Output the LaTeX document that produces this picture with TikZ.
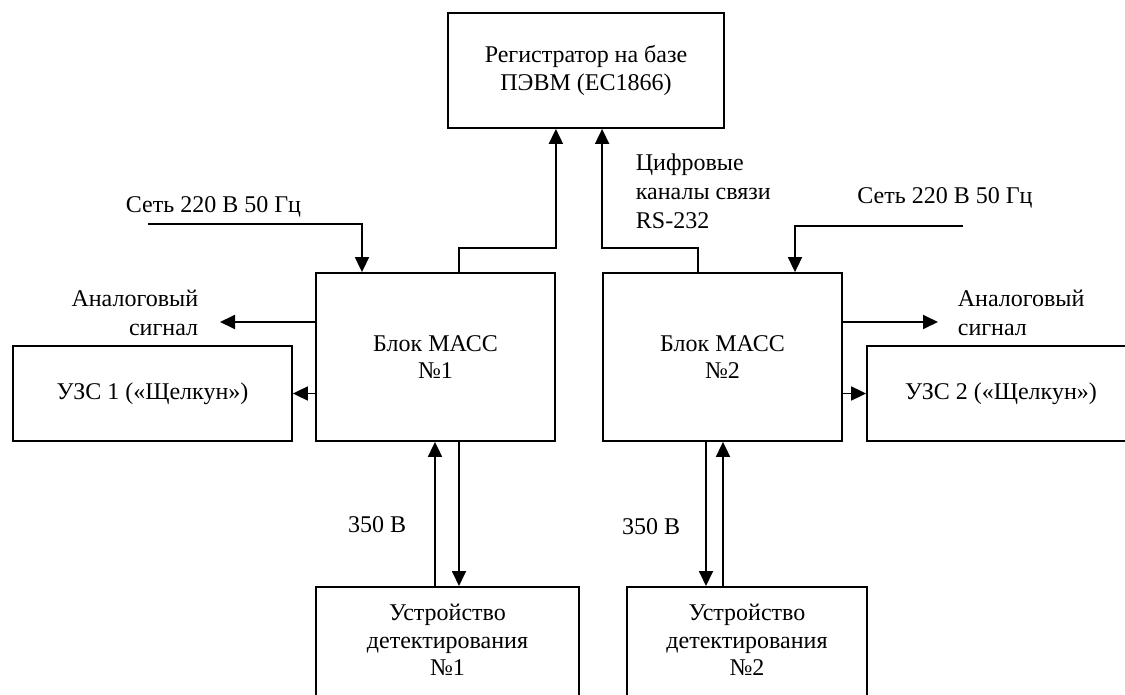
\documentclass[tikz,border=0pt]{standalone}
\usepackage{fontspec}
\setmainfont{Liberation Serif}
\usetikzlibrary{arrows.meta}
\begin{document}
\begin{tikzpicture}[x=0.5pt,y=-0.5pt,
    line width=0.9pt,
    blk/.style={draw, rectangle, inner sep=0pt, align=center, font=\fontsize{12}{13.8}\selectfont},
    lbl/.style={inner sep=0pt, font=\fontsize{12}{14.5}\selectfont},
    arr/.style={-{Triangle[length=7.5pt,width=7pt]}}]
    \useasboundingbox (0,0) rectangle (1125,695);
    % blocks
    \node[blk, minimum width=138pt, minimum height=57.5pt] (reg) at (586,70.5) {Регистратор на базе\\ПЭВМ (ЕС1866)};
    \node[blk, minimum width=119.5pt, minimum height=84pt] (mass1) at (435.5,357) {Блок МАСС\\№1};
    \node[blk, minimum width=119.5pt, minimum height=84pt] (mass2) at (722.5,357) {Блок МАСС\\№2};
    \node[blk, minimum width=139.5pt, minimum height=47.5pt] (uzs1) at (152.5,393.5) {УЗС 1 («Щелкун»)};
    \node[blk, minimum width=134pt, minimum height=47.5pt] (uzs2) at (1001,393.5) {УЗС 2 («Щелкун»)};
    \node[blk, minimum width=131.5pt, minimum height=65pt, anchor=north] (det1) at (447.5,586) {};
    \node[blk, minimum width=120pt, minimum height=65pt, anchor=north] (det2) at (747,586) {};
    \node[blk, draw=none] (det1t) at (447.5,640) {Устройство\\детектирования\\№1};
    \node[blk, draw=none] (det2t) at (747,640) {Устройство\\детектирования\\№2};
    % labels
    \node[lbl] (net1) at (213.5,207) {Сеть 220 В 50 Гц};
    \node[lbl] (net2) at (945,198) {Сеть 220 В 50 Гц};
    \node[lbl, align=right, anchor=east] (an1t) at (199,313) {Аналоговый\\сигнал};
    \node[lbl, align=left, anchor=west] (an2t) at (957,313) {Аналоговый\\сигнал};
    \node[lbl, align=left, anchor=west] (rs) at (635,191) {Цифровые\\каналы связи\\RS-232};
    \node[lbl, anchor=east] (v1) at (407,525) {350 В};
    \node[lbl, anchor=east] (v2) at (681,527) {350 В};
    % free ends
    \coordinate (p1) at (148,224);
    \coordinate (p2) at (963,226);
    \coordinate (a1) at (220,322);
    \coordinate (a2) at (938,322);
    % connectors
    \draw[arr] (p1) -| (362,0 |- mass1.north);
    \draw[arr] (p2) -| (795,0 |- mass2.north);
    \draw[arr] (459,0 |- mass1.north) -- (459,248) -| (mass1.north east |- reg.south);
    \draw[arr] (698,0 |- mass2.north) -- (698,248) -| (mass2.north west |- reg.south);
    \draw[arr] (mass1.west |- a1) -- (a1);
    \draw[arr] (mass2.east |- a2) -- (a2);
    \draw[arr] (mass1.west |- uzs1.east) -- (uzs1.east);
    \draw[arr] (mass2.east |- uzs2.west) -- (uzs2.west);
    \draw[arr] (435,0 |- det1.north) -- (435,0 |- mass1.south);
    \draw[arr] (459,0 |- mass1.south) -- (459,0 |- det1.north);
    \draw[arr] (706,0 |- mass2.south) -- (706,0 |- det2.north);
    \draw[arr] (723,0 |- det2.north) -- (723,0 |- mass2.south);
\end{tikzpicture}
\end{document}
